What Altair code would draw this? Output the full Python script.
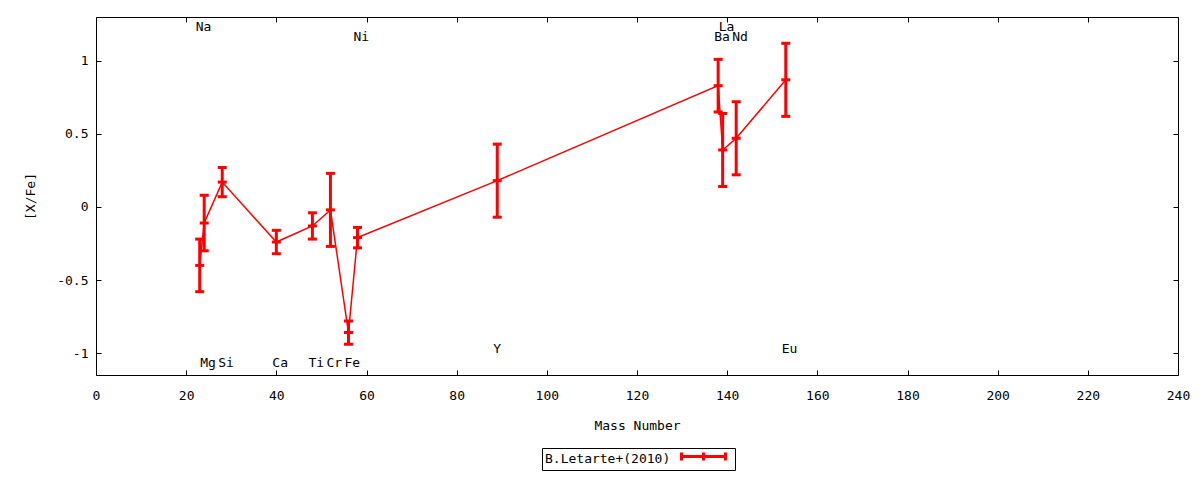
import altair as alt
import pandas as pd

# ---- data ----
elements = ["Na", "Mg", "Si", "Ca", "Ti", "Cr", "Fe", "Ni", "Y", "Ba", "La", "Nd", "Eu"]
mass = [23, 24, 28, 40, 48, 52, 56, 58, 89, 138, 139, 142, 153]
xfe = [-0.40, -0.11, 0.17, -0.24, -0.13, -0.02, -0.86, -0.21, 0.18, 0.83, 0.39, 0.47, 0.87]
err = [0.18, 0.19, 0.10, 0.08, 0.09, 0.25, 0.08, 0.07, 0.25, 0.18, 0.25, 0.25, 0.25]
label_y = [1.23, -1.07, -1.07, -1.07, -1.07, -1.07, -1.07, 1.16, -0.97, 1.16, 1.23, 1.16, -0.97]
series = "B.Letarte+(2010)"
x_ticks = [0, 20, 40, 60, 80, 100, 120, 140, 160, 180, 200, 220, 240]
y_ticks = [-1, -0.5, 0, 0.5, 1]

FONT = "DejaVu Sans Mono"
RED = "#ff0000"

df = pd.DataFrame({
    "element": elements,
    "mass": mass,
    "xfe": xfe,
    "err": err,
    "label_y": label_y,
    "series": [series] * len(elements),
})

base = alt.Chart(df).transform_calculate(
    lo="datum.xfe - datum.err", hi="datum.xfe + datum.err"
)

xscale = alt.Scale(domain=[0, 240], nice=False, zero=False)
yscale = alt.Scale(domain=[-1.15, 1.3], nice=False, zero=False)

common_axis = dict(grid=False, domain=False, offset=-5, tickSize=5, tickColor="black",
                   tickWidth=1, labelFont=FONT, labelFontSize=13, labelColor="black",
                   titleFont=FONT, titleFontSize=13, titleFontWeight="normal",
                   titleColor="black", labelExpr="'' + datum.value")

x_bottom = alt.Axis(values=x_ticks, title="Mass Number", labelPadding=14, titlePadding=17,
                    labelFlush=False, **common_axis)
y_left = alt.Axis(values=y_ticks, title="[X/Fe]", labelPadding=8, titlePadding=19,
                  **common_axis)
x_top = alt.Axis(values=x_ticks, orient="top", labels=False, title=None, grid=False,
                 domain=False, offset=-5, tickSize=5, tickColor="black")
y_right = alt.Axis(values=y_ticks, orient="right", labels=False, title=None, grid=False,
                   domain=False, offset=-5, tickSize=5, tickColor="black")

legend = alt.Legend(
    orient="none", legendX=446, legendY=431, titleOrient="left",
    title=series,
    titleFont=FONT, titleFontSize=13, titleFontWeight="normal", titleColor="black",
    titlePadding=5, labelExpr="''", labelFontSize=8, labelOffset=0,
    strokeColor="black", padding=3, fillColor="white",
    symbolType="M0,0H11M0,-1V1M11,-1V1M5.5,-1V1",
    symbolSize=64, symbolStrokeWidth=3, symbolFillColor="transparent",
)

bars = base.mark_rule(strokeWidth=3, opacity=1).encode(
    x=alt.X("mass:Q", scale=xscale, axis=x_bottom),
    y=alt.Y("lo:Q", scale=yscale, axis=y_left),
    y2="hi:Q",
    color=alt.Color("series:N", scale=alt.Scale(range=[RED]), legend=legend),
)

line = base.mark_line(color=RED, strokeWidth=1.5).encode(
    x=alt.X("mass:Q", scale=xscale, axis=x_top),
    y=alt.Y("xfe:Q", scale=yscale, axis=y_right),
)

def caps(field):
    return base.mark_tick(color=RED, orient="horizontal", size=9, thickness=3,
                          opacity=1).encode(
        x=alt.X("mass:Q", scale=xscale, axis=None),
        y=alt.Y(f"{field}:Q", scale=yscale, axis=None),
    )

labels = base.mark_text(font=FONT, fontSize=13, color="black", align="left",
                        baseline="middle", dx=-4).encode(
    x=alt.X("mass:Q", scale=xscale, axis=None),
    y=alt.Y("label_y:Q", scale=yscale, axis=None),
    text="element:N",
)

chart = alt.layer(bars, line, caps("lo"), caps("hi"), caps("xfe"), labels).resolve_axis(
    x="independent", y="independent"
).properties(
    width=1082, height=358,
    padding={"left": 88, "top": 9, "right": 14, "bottom": 97},
    autosize=alt.AutoSizeParams(type="none"),
    background="white",
).configure_view(stroke="black", strokeWidth=1)

chart.save("out.html", embed_options={"renderer": "svg", "actions": False})
